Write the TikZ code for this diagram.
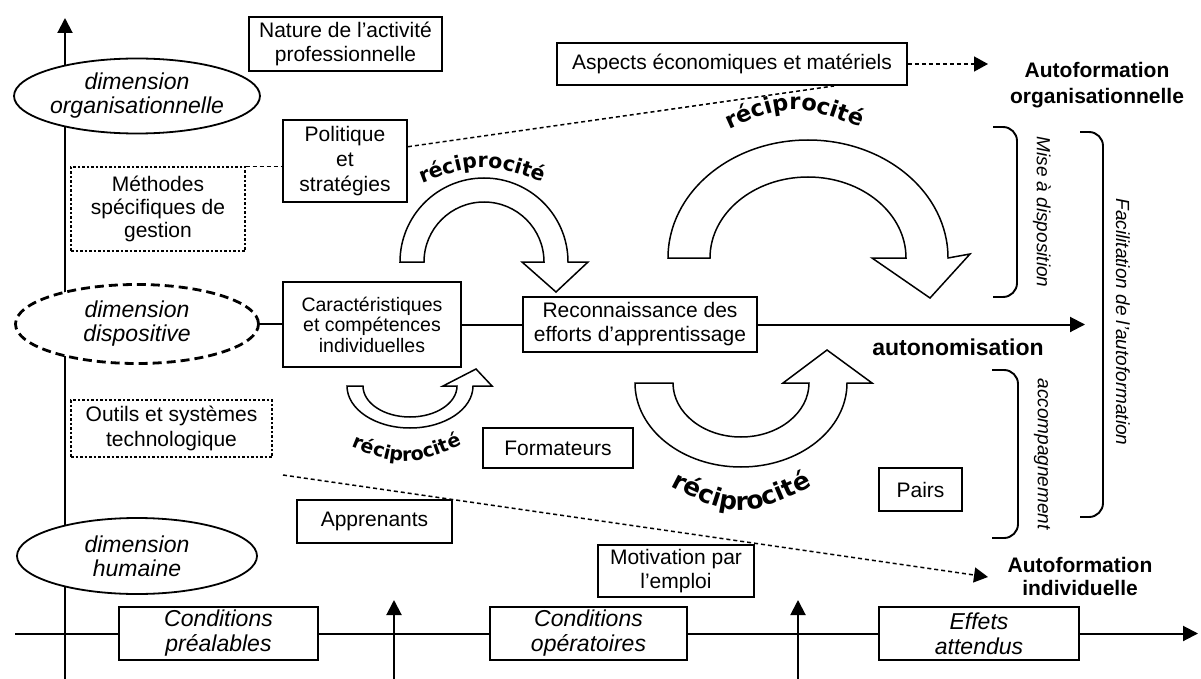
\documentclass[tikz,border=0pt]{standalone}
\usepackage{fontspec}
\setmainfont{Liberation Sans}
\newfontfamily\recfont{DejaVu Sans}
\usetikzlibrary{shapes.geometric,arrows.meta,decorations.text,calc}
\begin{document}
\begin{tikzpicture}[x=1pt,y=-1pt,
  box/.style={draw, line width=1.9pt, fill=white, inner sep=0pt, align=center, font=\fontsize{21}{24}\selectfont},
  dbox/.style={box, line width=1.4pt, dash pattern=on 2.5pt off 2pt},
  ell/.style={ellipse, draw, line width=1.8pt, fill=white, inner sep=0pt, align=center, font=\itshape\fontsize{23}{24}\selectfont},
  cond/.style={box, font=\itshape\fontsize{23}{25}\selectfont},
  lbl/.style={align=center, inner sep=0pt, font=\bfseries\fontsize{21}{26}\selectfont},
  axis/.style={line width=2pt, -{Triangle[length=15pt,width=15pt]}},
  conn/.style={line width=2pt},
  dashcon/.style={line width=1.5pt, dash pattern=on 4pt off 3pt},
  dtip/.style={-{Triangle[length=14pt,width=15pt]}},
  recarrow/.style={draw, line width=1.5pt, fill=white, line join=miter},
  brk/.style={line width=1.9pt, rounded corners=14pt},
  vtext/.style={rotate=-90, inner sep=0pt, font=\itshape\fontsize{19}{22}\selectfont}
]
\fill[white] (0,0) rectangle (1201,679);
\useasboundingbox (0,0) rectangle (1201,679);

% axes
\coordinate (vb) at (65,679); \coordinate (vt) at (65,18);
\draw[axis] (vb) -- (vt);
\coordinate (hb) at (15,633.5); \coordinate (ht) at (1198,633.5);
\draw[axis] (hb) -- (ht);
\coordinate (u1b) at (394,679); \coordinate (u1t) at (394,600);
\draw[axis] (u1b) -- (u1t);
\coordinate (u2b) at (798,679); \coordinate (u2t) at (798,600);
\draw[axis] (u2b) -- (u2t);

% nodes
\node[box, minimum width=193, minimum height=54] (nature) at (345.5,44) {Nature de l'activité\\professionnelle};
\node[ell, minimum width=240, minimum height=75] (org) at (137,96) {dimension\\organisationnelle};
\node[box, minimum width=350, minimum height=42] (aspects) at (732,64) {Aspects économiques et matériels};
\node[lbl] (autoorg) at (1097,85) {Autoformation\\organisationnelle};
\node[box, minimum width=124, minimum height=82, font=\fontsize{21}{25}\selectfont] (politique) at (345,161) {Politique\\et\\stratégies};
\node[dbox, minimum width=174, minimum height=84, font=\fontsize{21}{23}\selectfont] (methodes) at (158,209) {Méthodes\\spécifiques de\\gestion};
\node[ell, line width=2.8pt, dash pattern=on 9pt off 5pt, minimum width=243, minimum height=79] (disp) at (137,324) {dimension\\dispositive};
\node[box, minimum width=178, minimum height=85, font=\fontsize{19.5}{20.5}\selectfont] (caract) at (372,324.5) {Caractéristiques\\et compétences\\individuelles};
\node[box, minimum width=234, minimum height=55] (reconn) at (640,324.5) {Reconnaissance des\\efforts d'apprentissage};
\node[dbox, minimum width=201, minimum height=57, font=\fontsize{21}{25}\selectfont] (outils) at (171.5,428.5) {Outils et systèmes\\technologique};
\node[box, minimum width=150, minimum height=40] (formateurs) at (558,448) {Formateurs};
\node[lbl, font=\bfseries\fontsize{23}{26}\selectfont] (autonom) at (958,347) {autonomisation};
\node[box, minimum width=83, minimum height=43] (pairs) at (920.5,489.5) {Pairs};
\node[box, minimum width=155, minimum height=43] (apprenants) at (374.5,521.5) {Apprenants};
\node[ell, minimum width=240, minimum height=76] (hum) at (137,556) {dimension\\humaine};
\node[box, minimum width=156, minimum height=52] (motiv) at (676,571) {Motivation par\\l'emploi};
\node[lbl, font=\bfseries\fontsize{21}{23}\selectfont] (autoind) at (1080,576.5) {Autoformation\\individuelle};
\node[cond, minimum width=199, minimum height=53] (cpre) at (218.5,633.5) {Conditions\\préalables};
\node[cond, minimum width=197, minimum height=53] (cop) at (588.5,633.5) {Conditions\\opératoires};
\node[cond, minimum width=200, minimum height=53] (eff) at (979,633.5) {Effets\\attendus};

% main horizontal line
\coordinate (mainend) at (1085,324.5);
\draw[conn] (disp.east) -- (disp.east -| caract.west);
\draw[conn] (caract.east) -- (reconn.west);
\draw[conn, -{Triangle[length=15pt,width=15pt]}] (reconn.east) -- (mainend);

% dashed connectors
\draw[dashcon] (methodes.north east) -- (methodes.north east -| politique.west);
\draw[dashcon] ($(politique.north east)!0.33!(politique.south east)$) -- ($(aspects.south west)!0.79!(aspects.south east)$);
\coordinate (aoend) at (988,64);
\draw[dashcon, dtip] (aspects.east) -- (aoend);
\coordinate (dstart) at (283,475);
\coordinate (aiend) at (988,577);
\draw[dashcon, dtip] (dstart) -- (aiend);

% curved block arrows
\draw[recarrow] (400,262) arc[start angle=180, end angle=360, radius=84]
  -- (588,262) -- (556,292) -- (522,262) -- (544,262)
  arc[start angle=0, end angle=-180, radius=60] -- cycle;
\draw[recarrow] (668,258) arc[start angle=180, end angle=360, x radius=140, y radius=118]
  -- (970,254) -- (930,298) -- (872,258) -- (906,258)
  arc[start angle=0, end angle=-180, x radius=98, y radius=81] -- cycle;
\draw[recarrow] (347,386) arc[start angle=180, end angle=0, x radius=63, y radius=42]
  -- (492,386) -- (476,369) -- (443,386) -- (457,386)
  arc[start angle=0, end angle=180, x radius=47, y radius=31] -- cycle;
\draw[recarrow] (635,383) arc[start angle=180, end angle=0, x radius=106, y radius=84]
  -- (872,383) -- (827,350) -- (783,383) -- (809,383)
  arc[start angle=0, end angle=180, x radius=68, y radius=54] -- cycle;

% réciprocité labels
\path[decorate, decoration={text along path, text align=center,
  text={|\recfont\bfseries\fontsize{20.5}{21}\selectfont|réciprocité}}]
  (400,192) .. controls (481,160) .. (565,190);
\path[decorate, decoration={text along path, text align=center,
  text={|\recfont\bfseries\fontsize{22.5}{23}\selectfont|réciprocité}}]
  (700,143) .. controls (793,99) .. (890,140);
\path[decorate, decoration={text along path, text align=center,
  text={|\recfont\bfseries\fontsize{19}{20}\selectfont|réciprocité}}]
  (326,436) .. controls (405,470) .. (487,434);
\path[decorate, decoration={text along path, text align=center,
  text={|\recfont\bfseries\fontsize{25}{25}\selectfont|réciprocité}}]
  (640,470) .. controls (740,524) .. (843,470);

% brackets
\draw[brk] (993,127) -- (1017,127) -- (1017,297) -- (993,297);
\draw[brk] (992,370) -- (1018,370) -- (1018,538) -- (992,538);
\draw[brk] (1080,132) -- (1103,132) -- (1103,517) -- (1080,517);
\node[vtext] (mise) at (1042,212) {Mise à disposition};
\node[vtext] (accomp) at (1042,454) {accompagnement};
\node[vtext] (facil) at (1123,322) {Facilitation de l'autoformation};
\end{tikzpicture}
\end{document}
